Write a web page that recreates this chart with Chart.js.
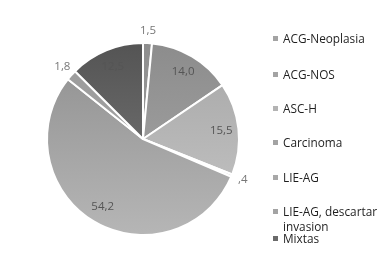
<!DOCTYPE html>
<html>
<head>
<meta charset="utf-8">
<script src="https://cdn.jsdelivr.net/npm/chart.js@4"></script>
<style>
  html, body { margin: 0; padding: 0; background: #fff; }
  #wrap { position: relative; width: 389px; height: 266px; overflow: hidden; }
  #grafico { position: absolute; left: 0; top: 0; }
  #legenda { position: absolute; left: 0; top: 0; width: 389px; height: 266px; font-family: "Open Sans", sans-serif; font-size: 11.8px; color: #1e1e1e; }
  .item { position: absolute; left: 273px; line-height: 14.5px; }
  .item .cx { position: absolute; left: 0; top: 5px; width: 5px; height: 5px; }
  .item .tx { position: absolute; left: 10px; top: 0; width: 112px; white-space: normal; }
</style>
</head>
<body>
<div id="wrap">
  <canvas id="grafico" width="389" height="266"></canvas>
  <div id="legenda"></div>
</div>
<script>
const categorias = ['ACG-Neoplasia', 'ACG-NOS', 'ASC-H', 'Carcinoma', 'LIE-AG', 'LIE-AG, descartar invasion', 'Mixtas']
const percentuais = [1.5, 14.0, 15.5, 0.4, 54.2, 1.8, 12.5]

// tons de cinza (topo, base) de cada fatia
const coresTopo = ['#8e8e8e', '#8c8c8c', '#a6a6a6', '#9a9a9a', '#8f8f8f', '#9a9a9a', '#545454']
const coresBase = ['#a4a4a4', '#a9a9a9', '#c6c6c6', '#b0b0b0', '#b6b6b6', '#a8a8a8', '#7c7c7c']
const coresLegenda = ['#a3a3a3', '#a3a3a3', '#b3b3b3', '#a3a3a3', '#a8a8a8', '#a3a3a3', '#6a6a6a']
const topoLegenda = [31, 67, 101, 135, 170, 204, 231]

function formatarValor(v) {
    let s = v.toFixed(1).replace('.', ',')
    return s.startsWith('0') ? s.substring(1) : s
}

const rotulosFatias = {
    id: 'rotulosFatias',
    afterDatasetsDraw(chart) {
        const ctx = chart.ctx
        const meta = chart.getDatasetMeta(0)
        ctx.save()
        ctx.font = '11.5px "Open Sans", sans-serif'
        ctx.textAlign = 'center'
        ctx.textBaseline = 'middle'
        meta.data.forEach((arc, i) => {
            const v = percentuais[i]
            const meio = (arc.startAngle + arc.endAngle) / 2
            const fora = v < 3
            const r = fora ? arc.outerRadius + 12 : arc.outerRadius * 0.82
            ctx.fillStyle = fora ? '#777777' : '#555555'
            ctx.fillText(formatarValor(v), arc.x + Math.cos(meio) * r, arc.y + Math.sin(meio) * r)
        })
        ctx.restore()
    }
}

function corGradiente(context) {
    const chart = context.chart
    const area = chart.chartArea
    if (!area) return coresTopo[context.dataIndex]
    const g = chart.ctx.createLinearGradient(0, area.top, 0, area.bottom)
    g.addColorStop(0, coresTopo[context.dataIndex])
    g.addColorStop(1, coresBase[context.dataIndex])
    return g
}

window.graficoPizza = new Chart(document.getElementById('grafico'), {
    type: 'pie',
    data: {
        labels: categorias,
        datasets: [{
            data: percentuais,
            backgroundColor: corGradiente,
            borderColor: '#ffffff',
            borderWidth: 2
        }]
    },
    options: {
        responsive: false,
        animation: false,
        layout: {
            padding: { left: 46, right: 149, top: 42, bottom: 30 }
        },
        plugins: {
            legend: { display: false },
            tooltip: { enabled: false }
        }
    },
    plugins: [rotulosFatias]
})

// legenda em html
const legenda = document.getElementById('legenda')
categorias.forEach((c, i) => {
    const item = document.createElement('div')
    item.className = 'item'
    item.style.top = topoLegenda[i] + 'px'
    item.innerHTML = `<span class="cx" style="background:${coresLegenda[i]}"></span><span class="tx">${c}</span>`
    legenda.appendChild(item)
})
</script>
</body>
</html>
